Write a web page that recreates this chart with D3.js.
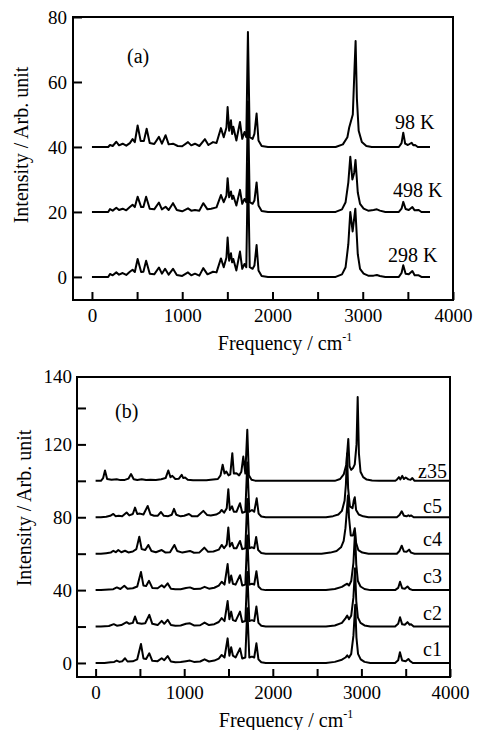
<!DOCTYPE html>
<html>
<head>
<meta charset="utf-8">
<script src="https://cdn.jsdelivr.net/npm/d3@7"></script>
<style>
  body { margin: 0; background: #fff; }
  svg, svg text { font-family: "Liberation Serif", "DejaVu Serif", serif; fill: #000; }
</style>
</head>
<body>
<div id="chart"></div>
<script>
// ---------- data (frequency cm-1, intensity above each trace's own baseline) ----------
const labelsA = ["98 K", "498 K", "298 K"];
const offsetsA = [40, 20, 0];

const spec98K = [[0,0],[180,0],[200,0.6],[230,0.3],[270,1.6],[300,0.5],[340,1.0],[380,0.4],[420,1.2],[450,2.4],[475,1.5],[506,6.6],[540,1.8],[575,1.8],[606,5.6],[640,1.2],[690,0.9],[742,3.1],[775,1.0],[816,3.6],[850,0.8],[898,1.0],[950,0.3],[1000,0.2],[1064,1.5],[1100,0.5],[1141,1.0],[1190,0.3],[1252,2.4],[1290,0.6],[1341,1.5],[1380,1.2],[1429,5.8],[1460,3],[1490,6],[1503,12.3],[1520,5],[1540,8.2],[1553,4],[1566,6.2],[1600,2],[1640,7.7],[1665,2.5],[1690,4.6],[1710,3],[1728,35.4],[1748,3],[1780,2.5],[1800,4],[1824,10.3],[1845,2],[1880,0.3],[1950,0],
  [2700,0],[2780,0.8],[2830,3],[2850,6],[2870,8],[2890,10],[2910,25],[2921,32.6],[2935,15],[2955,5],[2990,1.5],[3040,0.3],[3100,0],[3400,0],[3430,1.2],[3449,4.4],[3470,1.0],[3500,0.6],[3542,1.3],[3560,0.5],[3580,0.6],[3610,0],[3745,0]];

const spec498K = [[0,0],[180,0],[200,0.9],[230,0.4],[270,1.3],[300,0.6],[340,1.0],[380,0.5],[420,1.5],[450,2.2],[475,1.5],[506,4.7],[545,1.5],[570,1.5],[600,4.7],[640,1.0],[690,0.8],[742,2.9],[775,0.8],[816,1.6],[850,0.6],[898,2.7],[940,0.6],[1000,0.2],[1064,1.1],[1100,0.4],[1141,0.6],[1190,0.4],[1233,2.7],[1280,0.8],[1320,1.0],[1380,1.4],[1429,5.2],[1460,3],[1490,5],[1503,10.4],[1520,4.5],[1540,6.3],[1553,4],[1566,5],[1600,2],[1640,6.8],[1665,2.5],[1690,4],[1710,3],[1728,34],[1748,3],[1780,2.5],[1800,3.5],[1824,9.1],[1845,2],[1880,0.3],[1950,0],
  [2700,0],[2770,0.8],[2810,3],[2840,9],[2862,17],[2885,10],[2905,12],[2920,16],[2945,6],[2970,2.5],[3010,1],[3060,0.4],[3120,0.6],[3157,0.8],[3190,0.4],[3250,0],[3400,0],[3430,1],[3449,3.1],[3475,0.9],[3510,0.6],[3550,1.5],[3575,0.5],[3620,0.6],[3650,0],[3745,0]];

const spec298K = [[0,0],[180,0],[200,0.9],[230,0.5],[270,1.4],[300,0.7],[340,1.2],[380,0.6],[420,1.6],[450,2.2],[475,1.5],[506,5.5],[545,1.5],[570,1.6],[600,5.0],[640,1.0],[690,0.8],[742,2.9],[775,1.0],[810,2.5],[850,0.7],[898,2.5],[940,0.6],[1000,0.3],[1064,1.4],[1100,0.5],[1141,1.0],[1190,0.4],[1233,2.7],[1280,0.8],[1341,1.6],[1380,1.4],[1429,5.7],[1460,3],[1490,6],[1503,12.1],[1520,5],[1540,7.3],[1553,4.5],[1566,5.5],[1600,2],[1640,7.8],[1665,2.5],[1690,4],[1710,3],[1728,35],[1748,3],[1780,2.5],[1800,3.5],[1824,9.8],[1845,2],[1880,0.3],[1950,0],
  [2700,0],[2770,0.8],[2810,3],[2840,10],[2862,20],[2888,14],[2918,21],[2945,7],[2970,2.5],[3010,1],[3060,0.4],[3120,0.4],[3157,0.6],[3190,0.3],[3250,0],[3400,0],[3430,1.2],[3449,3.6],[3475,1.0],[3510,0.8],[3550,1.8],[3575,0.5],[3620,0.5],[3650,0],[3745,0]];

const labelsB = ["z35", "c5", "c4", "c3", "c2", "c1"];
const offsetsB = [100, 80, 60, 40, 20, 0];

const specZ35 = [[0,0],[60,0],[85,1.5],[106,5.7],[130,1.0],[180,0.6],[238,0.9],[280,0.4],[330,0.5],[370,1.2],[400,3.7],[430,0.9],[470,0.5],[520,0.9],[570,0.4],[620,0.6],[680,0.5],[740,0.9],[790,1.5],[821,5.7],[845,2],[866,2.7],[900,1],[940,1.2],[972,3.3],[990,1.5],[1010,1.8],[1040,0.6],[1100,0.3],[1250,0.3],[1300,0.6],[1380,1.0],[1410,3],[1434,8.8],[1455,4],[1475,5.1],[1500,3],[1520,3.5],[1543,15.2],[1560,4],[1590,4.2],[1620,3],[1645,5],[1667,13.3],[1690,4],[1712,28],[1730,3],[1760,0.6],[1800,0.1],[1850,0],
  [2700,0],[2760,1],[2800,3.5],[2830,9],[2852,23],[2866,8],[2885,6],[2905,7],[2925,9],[2945,20],[2958,46],[2972,15],[2990,5],[3020,2],[3060,0.7],[3120,0.2],[3200,0],[3380,0],[3400,0.6],[3424,2],[3440,0.8],[3461,2.7],[3480,1],[3500,1.8],[3530,0.8],[3555,0.6],[3575,1.5],[3600,0],[4000,0]];

const specC5 = [[0,0],[60,0],[120,0.3],[165,0.8],[200,1.8],[225,0.6],[260,0.8],[300,0.5],[350,2.6],[380,1.0],[420,1.8],[445,5.3],[470,1.8],[500,2],[540,1.5],[588,6.2],[620,1.5],[660,0.8],[700,0.8],[738,2.9],[770,0.8],[820,0.6],[860,1.4],[885,4.6],[910,1.4],[960,0.5],[1000,0.8],[1054,1.8],[1090,0.5],[1150,0.5],[1216,3.5],[1260,1.2],[1300,1.0],[1360,1.5],[1400,2.5],[1423,4],[1450,2.5],[1480,5],[1498,15.4],[1515,4],[1540,6],[1560,3],[1590,3],[1630,7.7],[1655,2.5],[1690,3],[1712,30],[1735,3],[1765,4],[1790,3],[1818,10.4],[1840,2],[1870,0.4],[1920,0],
  [2600,0],[2680,0.6],[2740,1.5],[2780,3.5],[2810,9],[2825,18],[2838,35],[2850,16],[2870,6],[2900,5],[2913,9],[2925,11],[2940,4],[2970,1.5],[3020,0.5],[3080,0],[3400,0],[3430,1.2],[3455,3.3],[3480,0.8],[3510,0.5],[3530,1.1],[3545,0.6],[3560,1],[3590,0],[4000,0]];

const specC4 = [[0,0],[60,0],[120,0.3],[170,0.6],[200,1.6],[228,0.8],[256,2.0],[290,0.8],[332,1.6],[370,0.7],[420,1.2],[460,2.5],[493,9.3],[520,2.5],[560,2],[595,4.8],[630,1.5],[680,0.8],[746,2.0],[790,0.6],[840,0.8],[889,4.8],[920,1.5],[980,0.6],[1065,1.5],[1110,0.5],[1170,0.6],[1227,3.3],[1270,1.0],[1330,1.2],[1390,2.2],[1423,4.8],[1450,3],[1480,5],[1498,14.4],[1515,4],[1540,6],[1560,3],[1590,3],[1630,7],[1655,2.5],[1690,3],[1712,30],[1735,3],[1765,3.5],[1790,3],[1812,9.2],[1835,2],[1870,0.4],[1920,0],
  [2550,0],[2650,0.6],[2720,1.5],[2770,3.5],[2800,7],[2820,14],[2838,25],[2848,32],[2860,20],[2880,10],[2905,10],[2925,14],[2940,6],[2965,2],[3010,0.6],[3080,0],[3400,0],[3430,1.5],[3455,4.4],[3480,1.2],[3510,1.0],[3538,2.2],[3560,0.6],[3600,0],[4000,0]];

const specC3 = [[0,0],[60,0],[150,0.3],[200,0.5],[240,1.5],[280,0.6],[324,2.4],[360,0.8],[420,1.0],[470,2],[512,10],[540,2.5],[570,2.2],[603,5.1],[640,1.2],[700,1],[746,2.7],[775,1.5],[813,3.7],[850,0.8],[900,0.5],[960,0.5],[1020,1.2],[1065,1.5],[1110,0.6],[1180,0.7],[1230,1.8],[1280,0.8],[1340,1.3],[1390,2.5],[1423,4.6],[1455,3],[1490,14.3],[1510,4],[1530,8],[1550,3.5],[1580,3],[1630,8.2],[1655,2.5],[1690,3],[1712,30],[1735,3],[1765,3.5],[1790,3],[1815,10.4],[1838,2],[1870,0.4],[1920,0],
  [2600,0],[2700,0.6],[2780,1.8],[2820,3],[2840,3.5],[2860,2.5],[2885,5],[2910,15],[2928,32],[2942,14],[2960,5],[2990,2],[3035,0.6],[3100,0],[3380,0],[3415,1.2],[3436,4.6],[3460,1.0],[3490,0.8],[3520,2],[3545,0.6],[3580,0],[4000,0]];

const specC2 = [[0,0],[60,0],[150,0.3],[205,1.3],[240,0.5],[290,0.8],[350,2.4],[380,1.5],[420,2],[445,5.5],[470,2],[520,1.5],[560,1.8],[606,6.4],[640,1.5],[700,0.8],[746,3.1],[775,1.5],[813,3.7],[850,0.8],[900,0.5],[960,0.6],[1020,1.5],[1065,1.8],[1110,0.6],[1180,0.7],[1230,2.2],[1280,0.8],[1340,1.3],[1390,2.5],[1423,4.6],[1455,3],[1490,14],[1510,4],[1530,8.2],[1550,3.5],[1580,3],[1630,8.2],[1655,2.5],[1690,3],[1712,30],[1735,3],[1765,3.5],[1790,3],[1815,11],[1838,2],[1870,0.4],[1920,0],
  [2600,0],[2700,0.6],[2780,2],[2820,4.5],[2840,6],[2860,4],[2885,6],[2910,16],[2928,32],[2942,14],[2960,5],[2990,2],[3035,0.6],[3100,0],[3380,0],[3415,1.5],[3436,5.1],[3460,1.2],[3490,1.0],[3520,2.4],[3545,1.0],[3560,1.3],[3590,0],[4000,0]];

const specC1 = [[0,0],[100,0],[170,0.4],[210,0.6],[238,1.3],[270,0.6],[300,0.9],[332,2.6],[360,0.8],[420,0.9],[470,2],[512,10.4],[540,2.5],[570,2.2],[606,5.3],[640,1.2],[700,1],[746,2.6],[775,1.5],[813,3.8],[850,0.8],[900,0.4],[960,0.5],[1020,1.0],[1065,1.3],[1110,0.6],[1180,0.8],[1230,2.0],[1280,0.8],[1340,1.3],[1390,2.4],[1423,4.4],[1455,3],[1490,13.5],[1510,4],[1530,8.6],[1550,4],[1580,3],[1630,8],[1655,2.5],[1690,3],[1712,30],[1735,3],[1765,3.5],[1790,3],[1815,10.8],[1838,2],[1870,0.4],[1920,0],
  [2600,0],[2700,0.6],[2780,1.8],[2820,3],[2840,4.2],[2860,3],[2885,5],[2910,15],[2930,32],[2944,14],[2962,5],[2992,2],[3035,0.6],[3100,0],[3380,0],[3415,1.5],[3435,5.9],[3460,1.3],[3500,1.0],[3530,2.2],[3550,1.0],[3580,0],[4000,0]];

const xTicks = [0, 500, 1000, 1500, 2000, 2500, 3000, 3500, 4000];
const xTickLabels = ["0", "", "1000", "", "2000", "", "3000", "", "4000"];
const yTicksA = [0, 20, 40, 60, 80];
const yTickLabelsA = ["0", "20", "40", "60", "80"];
const yTicksB = [0, 20, 40, 60, 80, 100, 120, 140];
const yTickLabelsB = ["0", "", "40", "", "80", "", "120", ""];
const yTopLabelB = "140";   // the reference prints "140" at the top edge of panel (b)

// ---------- layout ----------
const FONT = "'Liberation Serif', 'DejaVu Serif', serif";
const W = 478, H = 730;
const svg = d3.select("#chart").append("svg")
  .attr("width", W).attr("height", H)
  .attr("font-family", FONT);

function drawPanel(o) {
  const x = d3.scaleLinear().domain([-210, 4000]).range([o.left, o.right]);
  const y = d3.scaleLinear().domain(o.yDomain).range([o.bottom, o.top]);
  const g = svg.append("g");

  // spectra
  o.series.forEach((s, i) => {
    const line = d3.line()
      .x(d => x(d[0]))
      .y(d => y(d[1] + o.offsets[i]));
    g.append("path")
      .datum(s)
      .attr("d", line)
      .attr("fill", "none")
      .attr("stroke", "#000")
      .attr("stroke-width", 2)
      .attr("stroke-linejoin", "round");
  });

  // trace labels
  o.labels.forEach((t, i) => {
    g.append("text")
      .attr("x", o.labelX[i])
      .attr("y", y(o.offsets[i]) - o.labelDy[i])
      .attr("text-anchor", o.labelAnchor)
      .attr("font-size", 20)
      .text(t);
  });

  // x axis, ticks pointing inward
  g.append("g")
    .attr("transform", `translate(0,${o.bottom})`)
    .call(d3.axisBottom(x).tickValues(xTicks)
      .tickFormat((d, i) => xTickLabels[i])
      .tickSizeInner(-8).tickSizeOuter(0).tickPadding(9))
    .attr("font-family", FONT).attr("font-size", 19)
    .call(a => a.select(".domain").remove())
    .call(a => a.selectAll("line").attr("stroke-width", 2));

  // y axis
  g.append("g")
    .attr("transform", `translate(${o.left},0)`)
    .call(d3.axisLeft(y).tickValues(o.yTicks)
      .tickFormat((d, i) => o.yTickLabels[i])
      .tickSizeInner(-9).tickSizeOuter(0).tickPadding(o.yPad))
    .attr("font-family", FONT).attr("font-size", 19)
    .call(a => a.select(".domain").remove())
    .call(a => a.selectAll("line").attr("stroke-width", 2));

  if (o.topLabel) {
    g.append("text")
      .attr("x", o.left - o.yPad)
      .attr("y", o.top)
      .attr("dy", "0.32em")
      .attr("text-anchor", "end")
      .attr("font-size", 19)
      .text(o.topLabel);
  }

  // frame
  g.append("rect")
    .attr("x", o.left).attr("y", o.top)
    .attr("width", o.right - o.left).attr("height", o.bottom - o.top)
    .attr("fill", "none").attr("stroke", "#000").attr("stroke-width", 2);

  // panel tag
  g.append("text")
    .attr("x", o.tag[1]).attr("y", o.tag[2])
    .attr("font-size", 20)
    .text(o.tag[0]);

  // axis titles
  const xt = g.append("text")
    .attr("x", o.xTitleX).attr("y", o.bottom + 50)
    .attr("text-anchor", "middle")
    .attr("font-size", 20)
    .text("Frequency / cm");
  xt.append("tspan").attr("dy", -9).attr("font-size", 12).text("-1");

  g.append("text")
    .attr("transform", `translate(${o.yTitleX},${o.yTitleY}) rotate(-90)`)
    .attr("text-anchor", "middle")
    .attr("font-size", 20)
    .text("Intensity / Arb. unit");
}

drawPanel({
  left: 73, right: 453, top: 17, bottom: 300,
  yDomain: [-7.1, 80],
  yTicks: yTicksA, yTickLabels: yTickLabelsA, yPad: 6,
  series: [spec98K, spec498K, spec298K], offsets: offsetsA,
  labels: labelsA, labelX: [395, 393, 388], labelDy: [18, 15, 15], labelAnchor: "start",
  tag: ["(a)", 127, 63],
  xTitleX: 285, yTitleX: 28, yTitleY: 145
});

drawPanel({
  left: 77, right: 450, top: 377, bottom: 677,
  yDomain: [-7.7, 157],
  yTicks: yTicksB, yTickLabels: yTickLabelsB, yPad: 5, topLabel: yTopLabelB,
  series: [specZ35, specC5, specC4, specC3, specC2, specC1], offsets: offsetsB,
  labels: labelsB, labelX: [447, 442, 442, 442, 442, 442], labelDy: [3, 4, 8, 7, 6.5, 7], labelAnchor: "end",
  tag: ["(b)", 115, 418],
  xTitleX: 286, yTitleX: 31, yTitleY: 508
});
</script>
</body>
</html>
